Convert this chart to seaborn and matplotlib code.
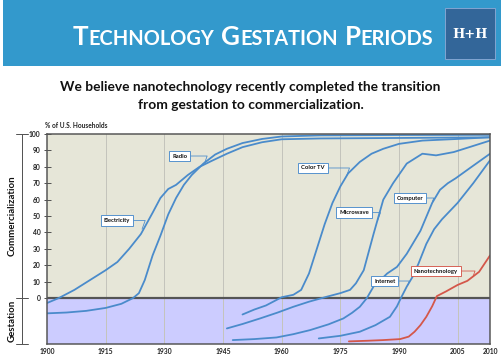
"""Technology gestation periods chart (H+H style)."""

import matplotlib
matplotlib.use("Agg")
import matplotlib.pyplot as plt
import matplotlib.transforms as mtransforms
from matplotlib.patches import Rectangle
import numpy as np
import pandas as pd
import seaborn as sns

# ---- data ----
electricity_years = [1900, 1903, 1907, 1911, 1915, 1918, 1921, 1924, 1927, 1929, 1931, 1933,
                     1936, 1939, 1942, 1946, 1950, 1955, 1960, 1970, 1990, 2013.3]
electricity_pct = [-3, 0, 5, 11, 17, 22, 30, 39, 52, 61, 66.5, 69,
                   75, 80, 83.5, 88, 92, 95, 96.8, 97.3, 97.6, 98]

radio_years = [1900, 1905, 1910, 1915, 1919, 1922, 1923.5, 1925, 1927, 1929, 1931, 1933,
               1935, 1937, 1940, 1943, 1946, 1950, 1955, 1960, 1970, 1990, 2013.3]
radio_pct = [-9.3, -8.8, -7.8, -6, -3.5, 0, 3, 11, 26, 38, 51, 61,
             69, 75, 82, 87.5, 91, 94.5, 97, 98.5, 99.2, 99.4, 99.5]

colortv_years = [1950, 1953, 1956, 1960, 1963, 1965, 1967, 1969, 1971, 1973, 1975, 1977,
                 1980, 1983, 1986, 1990, 1996, 2005, 2013.3]
colortv_pct = [-10, -7, -4.5, 0.5, 2, 5, 15, 30, 45, 58, 68, 76,
               83, 88, 91, 94, 96, 97, 98]

microwave_years = [1946, 1950, 1954.5, 1959, 1963, 1967, 1971.5, 1975, 1977.5, 1979, 1981,
                   1983.5, 1986, 1988.5, 1992, 1996, 1999.5, 2004, 2008, 2013.3]
microwave_pct = [-18.5, -15.8, -12.4, -8.8, -5.3, -2.2, 0.8, 3, 5, 9, 17,
                 39, 60, 70, 82, 88, 87, 89, 92, 96]

computer_years = [1947.5, 1953, 1958.7, 1963, 1967.3, 1972, 1975.8, 1978, 1980, 1981.8,
                  1983.5, 1987, 1989.5, 1992, 1995.5, 1998.5, 2000.5, 2002.5, 2004.5, 2008, 2013.3]
computer_pct = [-25.6, -25, -24, -22, -19.5, -16, -12.4, -9, -5.3, 0,
                7, 15, 19, 27, 41, 58, 66, 70, 73, 79, 88]

internet_years = [1969.5, 1975, 1980, 1984, 1987.7, 1989.5, 1990.5, 1992, 1993.5, 1995,
                  1997, 1999, 2001, 2003, 2005, 2009, 2013.3]
internet_pct = [-24.6, -23, -20.5, -16.5, -11.4, -5, 0, 7, 13, 21,
                33, 42, 48, 53, 58, 70, 84]

nano_years = [1977.2, 1982, 1986, 1990.3, 1992.5, 1994, 1995.5, 1997, 1998.5, 1999.7,
              2002, 2005, 2007.5, 2010.5, 2013.3]
nano_pct = [-26.4, -26, -25.6, -25, -23.5, -20.5, -16.5, -11.4, -5, 1.2,
            4, 8, 10.5, 16, 26]

tick_years = [1900, 1915, 1930, 1945, 1960, 1975, 1990, 2005]
end_year = 2013.3
end_label = "2010"

# label text, label position, point on curve
labels = [
    ("Radio", (1933.9, 86.6), (1940.4, 83.0)),
    ("Color TV", (1968.0, 79.3), (1976.7, 75.0)),
    ("Electricity", (1917.9, 47.3), (1924.3, 42.0)),
    ("Microwave", (1978.5, 52.1), (1984.5, 47.0)),
    ("Computer", (1992.8, 61.0), (1998.6, 59.0)),
    ("Internet", (1986.4, 10.4), (1992.3, 8.0)),
    ("Nanotechnology", (1999.4, 16.5), (2009.0, 13.5)),
]

BLUE = "#4A8BCB"
RED = "#D4574A"
BAND = "#3399CC"

series = {
    "Electricity": (electricity_years, electricity_pct),
    "Radio": (radio_years, radio_pct),
    "Color TV": (colortv_years, colortv_pct),
    "Microwave": (microwave_years, microwave_pct),
    "Computer": (computer_years, computer_pct),
    "Internet": (internet_years, internet_pct),
    "Nanotechnology": (nano_years, nano_pct),
}
frames = [pd.DataFrame({"year": x, "pct": y, "tech": name}) for name, (x, y) in series.items()]
df = pd.concat(frames, ignore_index=True)
palette = {name: (RED if name == "Nanotechnology" else BLUE) for name in series}

sns.set_theme(style="white")
plt.rcParams["font.family"] = ["Lato", "DejaVu Sans"]

fig = plt.figure(figsize=(7, 5), dpi=72)
ax = fig.add_axes([0.0933, 0.0444, 0.879, 0.5833])

ax.set_xlim(1900, end_year)
ax.set_ylim(-28, 100)
ax.set_facecolor("#E6E6D8")
ax.axhspan(-28, 0, color="#CCCCFF", zorder=0)
for yr in tick_years[1:]:
    ax.axvline(yr, color="#C4C4BC", lw=1, zorder=0.5)
ax.axhline(0, color="#555555", lw=2.2, zorder=1)

sns.lineplot(data=df, x="year", y="pct", hue="tech", palette=palette, estimator=None,
             sort=False, legend=False, lw=1.8, ax=ax, zorder=2)

for spine in ax.spines.values():
    spine.set_color("#555555")
    spine.set_linewidth(1.5)

ax.set_xticks(tick_years + [end_year])
ax.set_xticklabels([str(y) for y in tick_years] + [end_label], fontsize=6.8, fontweight="bold",
                   color="#222222")
ax.tick_params(axis="x", length=0, pad=4)
ax.set_yticks(np.arange(0, 101, 10))
ax.set_yticklabels([str(v) for v in range(0, 101, 10)], fontsize=6.8, fontweight="bold",
                   color="#222222")
ax.tick_params(axis="y", direction="inout", length=7, width=1, color="#555555", pad=3, left=True)
ax.set_xlabel("")
ax.set_ylabel("")

# bracket axis on the left
trans = mtransforms.blended_transform_factory(ax.transAxes, ax.transData)
ax.plot([-0.0564, -0.0564], [-28, 100], color="#555555", lw=1, transform=trans, clip_on=False)
for yv in [100, 0, -28]:
    ax.plot([-0.070, -0.043], [yv, yv], color="#555555", lw=1, transform=trans, clip_on=False)
ax.text(-0.079, 50, "Commercialization", rotation=90, ha="center", va="center", fontsize=9.6,
        fontweight="bold", color="#111111", transform=trans)
ax.text(-0.079, -14, "Gestation", rotation=90, ha="center", va="center", fontsize=9.6,
        fontweight="bold", color="#111111", transform=trans)

for text, pos, pt in labels:
    col = RED if text == "Nanotechnology" else BLUE
    ax.annotate(text, xy=pt, xytext=pos, ha="center", va="center", fontsize=5.9,
                fontweight="bold", color="#111111", zorder=5,
                bbox=dict(boxstyle="square,pad=0.5", fc="white", ec=col, lw=0.9),
                arrowprops=dict(arrowstyle="-", color=col, lw=0.8, shrinkA=0, shrinkB=0,
                                connectionstyle="angle,angleA=0,angleB=70,rad=0"))

fig.text(0.089, 0.651, "% of U.S. Households", fontsize=6.5, fontweight="bold",
         color="#222222", va="center")

# header band
fig.patches.append(Rectangle((0.006, 0.8167), 0.988, 0.1833, transform=fig.transFigure,
                             fc=BAND, ec="none", zorder=0))
fig.patches.append(Rectangle((0.883, 0.836), 0.0992, 0.1417, transform=fig.transFigure,
                             fc="#336699", ec="#7FA3D0", lw=1, zorder=1))
fig.text(0.9326, 0.905, "H+H", fontsize=13, fontweight="bold", family="DejaVu Serif",
         color="white", ha="center", va="center")

# small caps title
renderer = fig.canvas.get_renderer()
x = 0.1443
for word in "TECHNOLOGY GESTATION PERIODS".split():
    for i, part in enumerate([word[0], word[1:]]):
        t = fig.text(x, 0.875, part, fontsize=26 if i == 0 else 20, fontweight="bold",
                     color="white", va="baseline")
        x += t.get_window_extent(renderer).width / fig.bbox.width
    x += 7 / fig.bbox.width

fig.text(0.497, 0.7575, "We believe nanotechnology recently completed the transition",
         fontsize=13.7, fontweight="bold", color="#111111", ha="center", va="center")
fig.text(0.497, 0.7083, "from gestation to commercialization.",
         fontsize=13.7, fontweight="bold", color="#111111", ha="center", va="center")

fig.savefig("out.png", dpi=72)
plt.close(fig)
